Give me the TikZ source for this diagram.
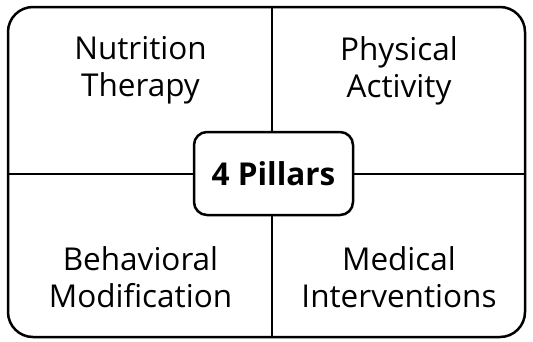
\documentclass[tikz,border=0pt]{standalone}
\usepackage{fontspec}
\setmainfont{Open Sans}
\begin{document}
\begin{tikzpicture}[x=1pt,y=-1pt,
  lbl/.style={align=center,font=\fontsize{31.5}{37}\selectfont,inner sep=0pt},
  frame/.style={draw,line width=2.5pt,rounded corners=25pt},
  hub/.style={draw,line width=2.5pt,rounded corners=13pt,fill=white,minimum width=159pt,minimum height=83pt,font=\fontsize{31.5}{37}\selectfont\bfseries},
  divider/.style={line width=2.5pt}]
\useasboundingbox (0,0) rectangle (533,341);
\node[frame,minimum width=517pt,minimum height=330pt,inner sep=0pt] (outer) at (266.5,172) {};
\coordinate (top) at (272,7);
\coordinate (bot) at (272,337);
\coordinate (lft) at (9,174);
\coordinate (rgt) at (524,174);
\draw[divider] (top) -- (bot);
\draw[divider] (lft) -- (rgt);
\node[hub] (hub) at (273.5,173.5) {4 Pillars};
\node[lbl] (nt) at (140.5,70.5) {Nutrition\\Therapy};
\node[lbl] (pa) at (399,70.5) {Physical\\Activity};
\node[lbl] (bm) at (140.5,277) {Behavioral\\Modification};
\node[lbl] (mi) at (399,277) {Medical\\Interventions};
\end{tikzpicture}
\end{document}
